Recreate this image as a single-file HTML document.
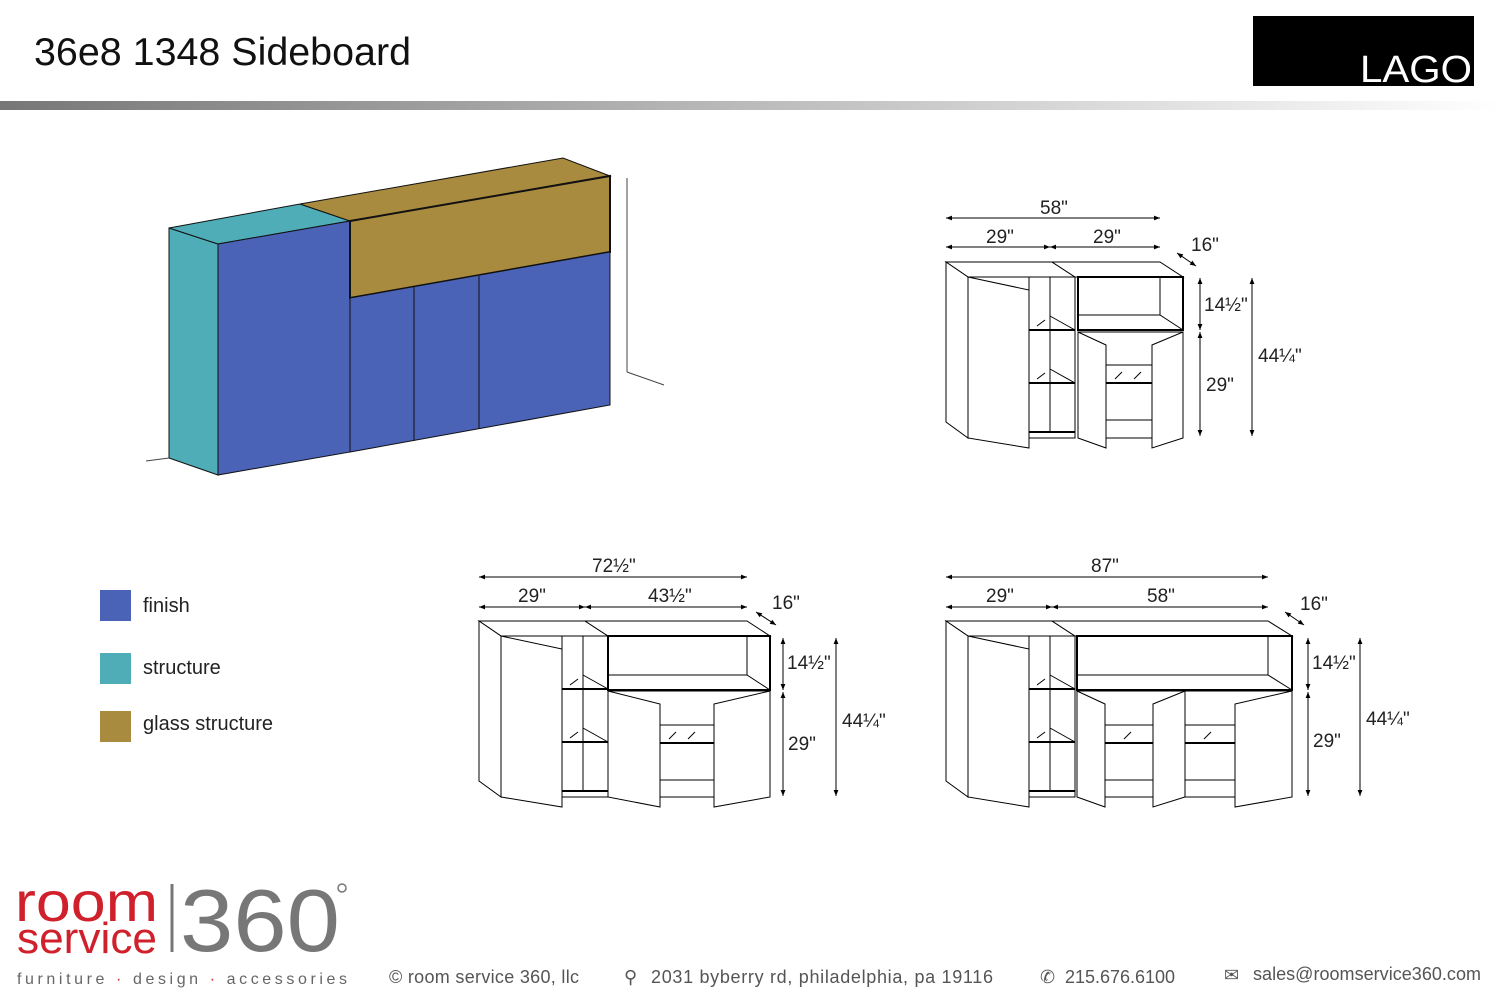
<!DOCTYPE html>
<html><head><meta charset="utf-8"><style>
body{margin:0;width:1500px;height:1000px;background:#fff;overflow:hidden;font-family:"Liberation Sans",sans-serif}
svg{position:absolute;left:0;top:0}
</style></head><body>
<svg width="1500" height="1000" viewBox="0 0 1500 1000" xmlns="http://www.w3.org/2000/svg">
<defs>
<linearGradient id="bar" x1="0" x2="1"><stop offset="0" stop-color="#777"/><stop offset="0.5" stop-color="#bbb"/><stop offset="1" stop-color="#fff"/></linearGradient>
<marker id="a" viewBox="0 0 10 10" refX="10" refY="5" markerWidth="8" markerHeight="6" orient="auto-start-reverse"><path d="M0,1 L10,5 L0,9 z" fill="#000"/></marker>
<g id="lm" fill="none" stroke="#000" stroke-width="1">
<polygon points="946,262 1052,262 1075,277 968,277" fill="#fff"/>
<polygon points="946,262 968,277 968,438 946,422" fill="#fff"/>
<polygon points="968,277 1029,290 1029,448 968,438" fill="#fff"/>
<rect x="1029" y="277" width="46" height="161"/>
<line x1="1050" y1="277" x2="1050" y2="432"/>
<line x1="1029" y1="330" x2="1075" y2="330" stroke-width="2"/>
<line x1="1029" y1="383" x2="1075" y2="383" stroke-width="2"/>
<line x1="1029" y1="432" x2="1075" y2="432" stroke-width="2"/>
<line x1="1050" y1="316" x2="1075" y2="330"/><line x1="1050" y1="369" x2="1075" y2="383"/>
<line x1="1037" y1="326" x2="1045" y2="320"/><line x1="1037" y1="379" x2="1045" y2="373"/>
</g>
</defs>
<text x="34" y="65" font-size="39" fill="#111" textLength="377" lengthAdjust="spacingAndGlyphs">36e8 1348 Sideboard</text>
<rect x="1253" y="16" width="221" height="70" fill="#000"/>
<text x="1360" y="82" font-size="38" fill="#fff" textLength="112" lengthAdjust="spacingAndGlyphs">LAGO</text>
<rect x="0" y="101" width="1500" height="9" fill="url(#bar)"/>

<g stroke="#111" stroke-width="1">
<polygon points="169,228 218,244 218,475 169,458" fill="#4fadb7"/>
<polygon points="169,228 300,204 350,221 218,244" fill="#4fadb7"/>
<polygon points="218,244 350,221 350,452 218,475" fill="#4b63b6"/>
<polygon points="300,204 563,158 610,176 350,221" fill="#a98b3f"/>
<polygon points="350,221 610,176 610,252 350,298" fill="#a98b3f" stroke-width="2"/>
<polygon points="350,298 610,252 610,405 350,452" fill="#4b63b6"/>
<line x1="414" y1="287" x2="414" y2="441"/><line x1="479" y1="276" x2="479" y2="429"/>
<line x1="627" y1="178" x2="627" y2="372" stroke="#444"/><line x1="627" y1="372" x2="664" y2="385" stroke="#444"/>
<line x1="146" y1="461" x2="169" y2="458" stroke="#444"/>
</g>

<rect x="100" y="590" width="31" height="31" fill="#4b63b6"/><text x="143" y="612" font-size="20" fill="#222">finish</text>
<rect x="100" y="653" width="31" height="31" fill="#4fadb7"/><text x="143" y="674" font-size="20" fill="#222">structure</text>
<rect x="100" y="711" width="31" height="31" fill="#a98b3f"/><text x="143" y="730" font-size="20" fill="#222">glass structure</text>

<g font-size="19" fill="#222">
<use href="#lm"/>
<g fill="#fff" stroke="#000">
<polygon points="1052,262 1160,262 1183,277 1075,277"/>
<rect x="1078" y="277" width="105" height="53" stroke-width="2"/>
<polyline points="1078,315 1160,315 1183,330" fill="none"/><line x1="1160" y1="277" x2="1160" y2="315"/>
<rect x="1078" y="332" width="105" height="106"/>
<line x1="1106" y1="365" x2="1152" y2="365"/><line x1="1106" y1="383" x2="1152" y2="383" stroke-width="2"/><line x1="1106" y1="420" x2="1152" y2="420"/>
<polygon points="1078,332 1106,345 1106,448 1078,438"/>
<polygon points="1183,332 1152,345 1152,448 1183,438"/>
</g>
<g stroke="#000" fill="none"><line x1="1115" y1="379" x2="1122" y2="372"/><line x1="1134" y1="379" x2="1141" y2="372"/></g>
<g stroke="#000" marker-start="url(#a)" marker-end="url(#a)">
<line x1="946" y1="218" x2="1160" y2="218"/><line x1="946" y1="247" x2="1050" y2="247"/><line x1="1050" y1="247" x2="1160" y2="247"/>
<line x1="1177" y1="253" x2="1196" y2="266"/>
<line x1="1200" y1="278" x2="1200" y2="330"/><line x1="1200" y1="332" x2="1200" y2="436"/><line x1="1252" y1="278" x2="1252" y2="436"/>
</g>
<text x="1040" y="214">58"</text><text x="986" y="243">29"</text><text x="1093" y="243">29"</text><text x="1191" y="251">16"</text>
<text x="1204" y="311">14½"</text><text x="1206" y="391">29"</text><text x="1258" y="362">44¼"</text>

<use href="#lm" transform="translate(-467,359)"/>
<g fill="#fff" stroke="#000">
<polygon points="585,621 747,621 770,636 608,636"/>
<rect x="608" y="636" width="162" height="54" stroke-width="2"/>
<polyline points="608,675 747,675 770,690" fill="none"/><line x1="747" y1="636" x2="747" y2="675"/>
<rect x="608" y="691" width="162" height="106"/>
<line x1="660" y1="725" x2="714" y2="725"/><line x1="660" y1="743" x2="714" y2="743" stroke-width="2"/><line x1="660" y1="780" x2="714" y2="780"/>
<polygon points="608,691 660,704 660,807 608,797"/>
<polygon points="770,691 714,704 714,807 770,797"/>
</g>
<g stroke="#000" fill="none"><line x1="669" y1="739" x2="676" y2="732"/><line x1="688" y1="739" x2="695" y2="732"/></g>
<g stroke="#000" marker-start="url(#a)" marker-end="url(#a)">
<line x1="479" y1="577" x2="747" y2="577"/><line x1="479" y1="607" x2="585" y2="607"/><line x1="585" y1="607" x2="747" y2="607"/>
<line x1="756" y1="612" x2="776" y2="625"/>
<line x1="783" y1="638" x2="783" y2="690"/><line x1="783" y1="692" x2="783" y2="796"/><line x1="836" y1="638" x2="836" y2="796"/>
</g>
<text x="592" y="572">72½"</text><text x="518" y="602">29"</text><text x="648" y="602">43½"</text><text x="772" y="609">16"</text>
<text x="787" y="669">14½"</text><text x="788" y="750">29"</text><text x="842" y="727">44¼"</text>

<use href="#lm" transform="translate(0,359)"/>
<g fill="#fff" stroke="#000">
<polygon points="1052,621 1268,621 1292,636 1075,636"/>
<rect x="1077" y="636" width="215" height="54" stroke-width="2"/>
<polyline points="1077,675 1268,675 1292,690" fill="none"/><line x1="1268" y1="636" x2="1268" y2="675"/>
<rect x="1077" y="691" width="215" height="106"/>
<line x1="1105" y1="725" x2="1235" y2="725"/><line x1="1105" y1="743" x2="1235" y2="743" stroke-width="2"/><line x1="1105" y1="780" x2="1235" y2="780"/>
<polygon points="1077,691 1105,704 1105,807 1077,797"/>
<polygon points="1185,691 1153,704 1153,807 1185,797"/>
<line x1="1185" y1="691" x2="1185" y2="797"/>
<polygon points="1292,691 1235,704 1235,807 1292,797"/>
</g>
<g stroke="#000" fill="none"><line x1="1124" y1="739" x2="1131" y2="732"/><line x1="1204" y1="739" x2="1211" y2="732"/></g>
<g stroke="#000" marker-start="url(#a)" marker-end="url(#a)">
<line x1="946" y1="577" x2="1268" y2="577"/><line x1="946" y1="607" x2="1052" y2="607"/><line x1="1052" y1="607" x2="1268" y2="607"/>
<line x1="1285" y1="612" x2="1304" y2="625"/>
<line x1="1308" y1="638" x2="1308" y2="690"/><line x1="1308" y1="692" x2="1308" y2="796"/><line x1="1360" y1="638" x2="1360" y2="796"/>
</g>
<text x="1091" y="572">87"</text><text x="986" y="602">29"</text><text x="1147" y="602">58"</text><text x="1300" y="610">16"</text>
<text x="1312" y="669">14½"</text><text x="1313" y="747">29"</text><text x="1366" y="725">44¼"</text>
</g>

<text x="15" y="921" font-size="56" fill="#d0202b" textLength="143" lengthAdjust="spacingAndGlyphs">room</text>
<text x="17" y="953" font-size="44" fill="#d0202b" textLength="140" lengthAdjust="spacingAndGlyphs">service</text>
<line x1="172" y1="884" x2="172" y2="952" stroke="#777" stroke-width="3"/>
<text x="180" y="951" font-size="88" fill="#777" textLength="160" lengthAdjust="spacingAndGlyphs">360</text>
<circle cx="342" cy="888" r="4" fill="none" stroke="#777" stroke-width="1.5"/>
<text x="17" y="984" font-size="16" fill="#666" textLength="330" lengthAdjust="spacing">furniture  <tspan fill="#d0202b">·</tspan>  design  <tspan fill="#d0202b">·</tspan>  accessories</text>
<g font-size="18" fill="#555">
<text x="389" y="983" textLength="190">© room service 360, llc</text>
<text x="624" y="983">⚲</text><text x="651" y="983" textLength="342">2031 byberry rd, philadelphia, pa 19116</text>
<text x="1040" y="983">✆</text><text x="1065" y="983" textLength="110">215.676.6100</text>
<text x="1224" y="981">✉</text><text x="1253" y="980" textLength="228">sales@roomservice360.com</text>
</g>
</svg>
</body></html>
